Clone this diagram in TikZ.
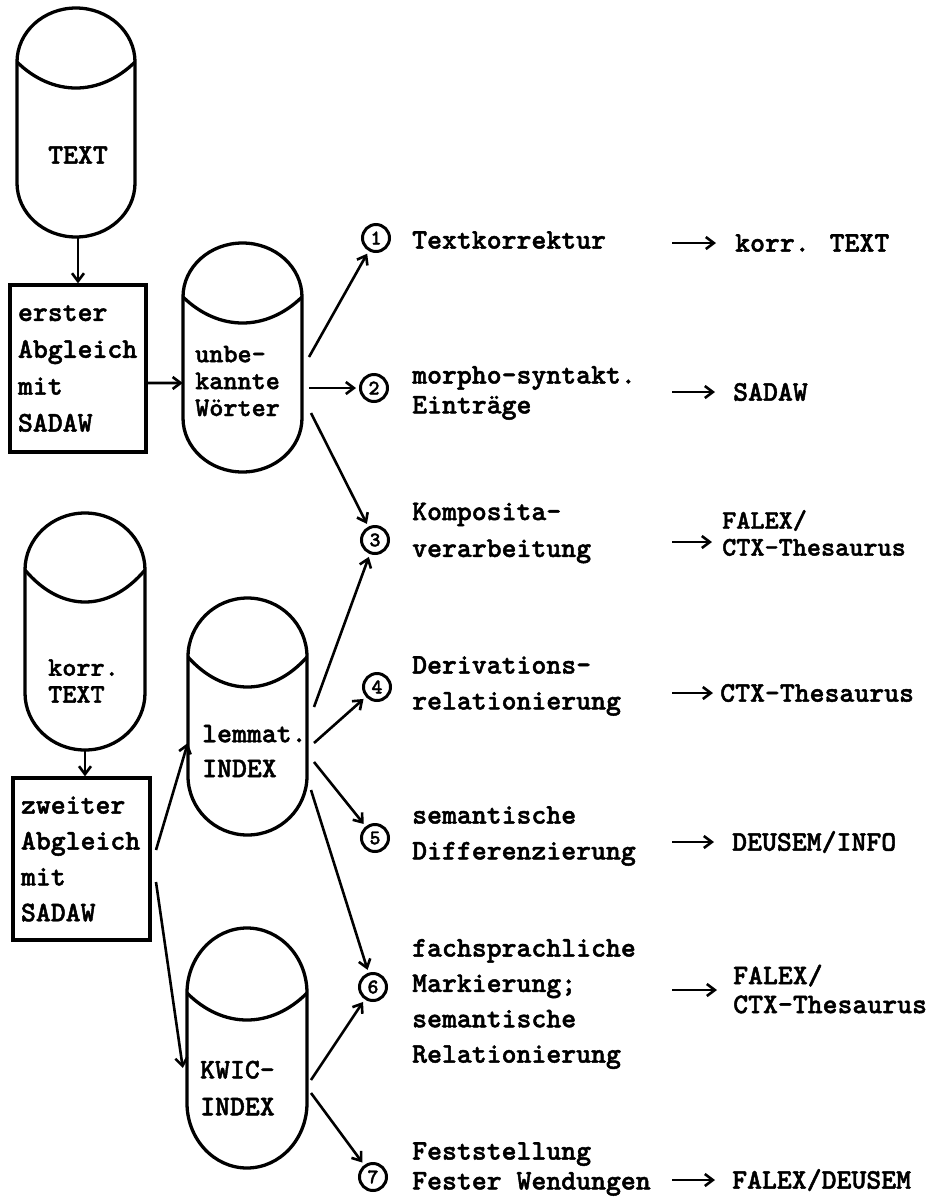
\documentclass[tikz,border=0pt]{standalone}
\usepackage{fontspec}
\newfontfamily\tw{lmmonolt10-bold}[Extension=.otf, FakeBold=1.6]
\usetikzlibrary{arrows.meta}
\newcommand\drawcyl[6]{%
  \pgfmathsetmacro\rx{(#2-#1)/2}%
  \pgfmathsetmacro\ry{#4-#3}%
  \pgfmathsetmacro\sb{#6-\ry}%
  \pgfmathsetmacro\cl{(4*#5-#4)/3}%
  \pgfmathsetmacro\ca{#1+0.3*(#2-#1)}%
  \pgfmathsetmacro\cb{#2-0.3*(#2-#1)}%
  \draw[shp] (#1,#4) arc[start angle=180,end angle=360,x radius=\rx,y radius=\ry] -- (#2,\sb) arc[start angle=0,end angle=180,x radius=\rx,y radius=\ry] -- cycle;
  \draw[shp] (#1,#4) .. controls (\ca,\cl) and (\cb,\cl) .. (#2,#4);
}
\begin{document}
\begin{tikzpicture}[x=1bp,y=-1bp,
  shp/.style={line width=3.3bp},
  txt/.style={font=\tw\fontsize{28.5}{36}\selectfont, inner sep=0pt, align=left, anchor=west},
  tight/.style={font=\tw\fontsize{27}{27}\selectfont},
  arr/.style={-{Straight Barb[length=8bp,width=12bp,line width=2.6bp]}, line width=2.6bp},
  num/.style={circle, draw, line width=3bp, minimum size=27bp, inner sep=0pt, font=\tw\fontsize{21}{21}\selectfont},
  boxn/.style={draw, shp, inner xsep=8bp, inner ysep=0pt, align=left, font=\tw\fontsize{28.5}{37}\selectfont},
  cylb/.style={inner sep=0pt}]
\useasboundingbox (0,0) rectangle (930,1204);
\fill[white] (0,0) rectangle (930,1204);

% cylinders
\drawcyl{17}{135}{8}{62}{88}{237}
\drawcyl{183}{302}{243}{297}{323}{472}
\drawcyl{25}{145}{513}{570}{602}{750}
\drawcyl{188}{307}{598}{657}{687}{835}
\drawcyl{187}{307}{928}{993}{1020}{1168}

\node[cylb, minimum width=118bp, minimum height=229bp] (cText) at (76,122.5) {};
\node[cylb, minimum width=119bp, minimum height=229bp] (cWort) at (242.5,357.5) {};
\node[cylb, minimum width=120bp, minimum height=237bp] (cKorr) at (85,631.5) {};
\node[cylb, minimum width=119bp, minimum height=237bp] (cLem) at (247.5,716.5) {};
\node[cylb, minimum width=120bp, minimum height=240bp] (cKwic) at (247,1048) {};

\node[txt, anchor=center] (tText) at (78,155) {TEXT};
\node[txt, tight] (tWort) at (195,381) {unbe-\\kannte\\Wörter};
\node[txt, tight] (tKorr) at (48,681) {korr.\\TEXT};
\node[txt, font=\tw\fontsize{28.5}{35}\selectfont] (tLem) at (202,751) {lemmat.\\INDEX};
\node[txt, font=\tw\fontsize{28.5}{37}\selectfont] (tKwic) at (200,1088) {KWIC-\\INDEX};

% boxes
\node[boxn, minimum width=136bp, minimum height=167bp, text width=120bp] (b1) at (78,368.5) {erster\\Abgleich\\mit\\SADAW};
\node[boxn, minimum width=137bp, minimum height=162bp, text width=121bp, font=\tw\fontsize{28.5}{36}\selectfont] (b2) at (81.5,859) {zweiter\\Abgleich\\mit\\SADAW};

% left arrows
\draw[arr] ([xshift=2bp]cText.south) -- ([xshift=2bp]cText.south |- b1.north);
\draw[arr] ([yshift=-14.5bp]b1.east) -- ([yshift=-25.5bp]cWort.west);
\draw[arr] (cKorr.south) -- (cKorr.south |- b2.north);
\coordinate (bA) at (156,850);
\coordinate (bB) at (156,882);
\draw[arr] (bA) -- ([yshift=-26.5bp]cLem.west);
\draw[arr] (bB) -- ([xshift=-4bp,yshift=-20bp]cKwic.west);

% numbered circles
\node[num] (c1) at (376,238) {1};
\node[num] (c2) at (374,388) {2};
\node[num] (c3) at (375,540) {3};
\node[num] (c4) at (377,687) {4};
\node[num] (c5) at (375,838) {5};
\node[num] (c6) at (373,987) {6};
\node[num] (c7) at (373,1177) {7};

\coordinate (w1) at (309,357);
\coordinate (w2) at (309,388);
\coordinate (w3) at (311,413);
\coordinate (l3) at (314,707);
\coordinate (l4) at (314,743);
\coordinate (l5) at (314,762);
\coordinate (l6) at (311,790);
\coordinate (k6) at (311,1080);
\coordinate (k7) at (311,1093);
\begin{scope}[shorten >=3bp]
\draw[arr] (w1) -- (c1);
\draw[arr] (w2) -- (c2);
\draw[arr] (w3) -- (c3);
\draw[arr] (l3) -- (c3);
\draw[arr] (l4) -- (c4);
\draw[arr] (l5) -- (c5);
\draw[arr] (l6) -- (c6);
\draw[arr] (k6) -- (c6);
\draw[arr] (k7) -- (c7);
\end{scope}

% labels
\node[txt] (L1) at (412,240) {Textkorrektur};
\node[txt, font=\tw\fontsize{28.5}{30}\selectfont] (L2) at (412,393) {morpho-syntakt.\\Einträge};
\node[txt, font=\tw\fontsize{28.5}{37}\selectfont] (L3) at (412,533) {Komposita-\\verarbeitung};
\node[txt] (L4) at (412,686) {Derivations-\\relationierung};
\node[txt] (L5) at (412,836) {semantische\\Differenzierung};
\node[txt, font=\tw\fontsize{28.5}{35.5}\selectfont] (L6) at (412,1004) {fachsprachliche\\Markierung;\\semantische\\Relationierung};
\node[txt, font=\tw\fontsize{28.5}{30}\selectfont] (L7) at (412,1169) {Feststellung\\Fester Wendungen};

% results
\node[txt] (R1) at (735,243) {korr. TEXT};
\node[txt] (R2) at (733,392) {SADAW};
\node[txt, tight] (R3) at (722,533) {FALEX/\\CTX-Thesaurus};
\node[txt] (R4) at (720,693) {CTX-Thesaurus};
\node[txt] (R5) at (732,842) {DEUSEM/INFO};
\node[txt, font=\tw\fontsize{28.5}{29}\selectfont] (R6) at (733,989) {FALEX/\\CTX-Thesaurus};
\node[txt] (R7) at (732,1180) {FALEX/DEUSEM};

\coordinate (a1) at (672,243);
\coordinate (a2) at (672,392);
\coordinate (a3) at (672,542);
\coordinate (a4) at (672,693);
\coordinate (a5) at (672,842);
\coordinate (a6) at (672,990);
\coordinate (a7) at (672,1180);
\draw[arr, shorten >=19bp] (a1) -- (R1.west);
\draw[arr, shorten >=18bp] (a2) -- (R2.west);
\draw[arr, shorten >=10bp] (a3) -- (a3 -| R3.west);
\draw[arr, shorten >=7bp] (a4) -- (R4.west);
\draw[arr, shorten >=18bp] (a5) -- (R5.west);
\draw[arr, shorten >=16bp] (a6) -- (a6 -| R6.west);
\draw[arr, shorten >=17bp] (a7) -- (R7.west);
\end{tikzpicture}
\end{document}
